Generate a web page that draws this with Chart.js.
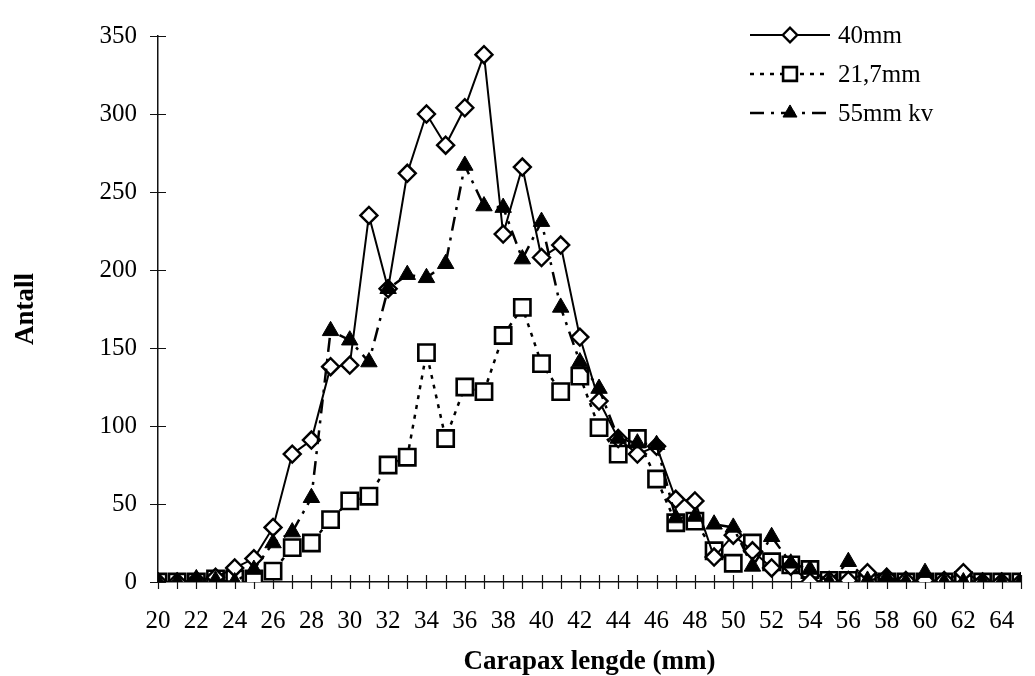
<!DOCTYPE html>
<html>
<head>
<meta charset="utf-8">
<script src="https://cdn.jsdelivr.net/npm/chart.js@4.4.0/dist/chart.umd.min.js"></script>
<style>
html, body { margin: 0; padding: 0; background: #fff; }
#wrap { width: 1035px; height: 676px; }
</style>
</head>
<body>
<div id="wrap"><canvas id="chart"></canvas></div>
<script>
// carapace length (mm)
var lengths = [20, 21, 22, 23, 24, 25, 26, 27, 28, 29,
               30, 31, 32, 33, 34, 35, 36, 37, 38, 39,
               40, 41, 42, 43, 44, 45, 46, 47, 48, 49,
               50, 51, 52, 53, 54, 55, 56, 57, 58, 59,
               60, 61, 62, 63, 64, 65];

var mesh40 = [0, 0, 1, 3, 9, 15, 35, 82, 91, 138,
              139, 235, 188, 262, 300, 280, 304, 338, 223, 266,
              208, 216, 157, 116, 92, 82, 87, 53, 52, 16,
              30, 20, 9, 10, 0, 1, 1, 6, 3, 1,
              1, 1, 6, 0, 0, 0];

var mesh217 = [0, 0, 0, 2, 2, 2, 7, 22, 25, 40,
               52, 55, 75, 80, 147, 92, 125, 122, 158, 176,
               140, 122, 132, 99, 82, 92, 66, 38, 39, 20,
               12, 25, 13, 11, 8, 1, 1, 0, 0, 0,
               0, 0, 1, 0, 0, 0];

var mesh55 = [0, 0, 2, 1, 0, 8, 25, 32, 54, 161,
              155, 141, 188, 197, 195, 204, 267, 241, 240, 207,
              231, 176, 141, 124, 92, 89, 88, 41, 42, 37,
              35, 10, 29, 12, 8, 0, 13, 1, 3, 0,
              6, 0, 0, 0, 0, 0];

var seriesNames = ['40mm', '21,7mm', '55mm kv'];

var yMin = 0, yMax = 350, yStep = 50;
var xMin = 20, xMax = 65;

function toPoints(values) {
    return values.map((v, i) => ({ x: lengths[i], y: v }));
}

var serif = 'Liberation Serif, Times New Roman, serif';

// Excel style tick marks crossing the axes
var crossTicks = {
    id: 'crossTicks',
    beforeDatasetsDraw(chart) {
        var ctx = chart.ctx, xs = chart.scales.x, ys = chart.scales.y;
        ctx.save();
        ctx.strokeStyle = '#111';
        ctx.lineWidth = 1.2;
        ctx.beginPath();
        xs.ticks.forEach(t => {
            var px = Math.round(xs.getPixelForValue(t.value)) + 0.5;
            ctx.moveTo(px, ys.bottom - 7);
            ctx.lineTo(px, ys.bottom + 7);
        });
        ys.ticks.forEach(t => {
            var py = Math.round(ys.getPixelForValue(t.value)) + 0.5;
            ctx.moveTo(xs.left - 8, py);
            ctx.lineTo(xs.left + 8, py);
        });
        ctx.stroke();
        ctx.restore();
    }
};

// legend with line sample + marker, like the original
var lineLegend = {
    id: 'lineLegend',
    afterDraw(chart) {
        var ctx = chart.ctx;
        var x0 = 750, x1 = 830, xm = 790, xt = 838;
        var rows = [35, 74, 113];
        ctx.save();
        chart.data.datasets.forEach((ds, i) => {
            var y = rows[i];
            ctx.strokeStyle = ds.borderColor;
            ctx.lineWidth = ds.borderWidth;
            ctx.setLineDash(ds.borderDash || []);
            ctx.beginPath();
            ctx.moveTo(x0, y);
            ctx.lineTo(x1, y);
            ctx.stroke();
            ctx.setLineDash([]);
            ctx.fillStyle = ds.pointBackgroundColor;
            ctx.strokeStyle = ds.pointBorderColor;
            ctx.lineWidth = ds.pointBorderWidth;
            Chart.helpers.drawPoint(ctx, {
                pointStyle: ds.pointStyle,
                radius: ds.pointRadius * 0.85,
                rotation: 0,
                borderWidth: ds.pointBorderWidth
            }, xm, y);
            ctx.fillStyle = '#000';
            ctx.font = '25px ' + serif;
            ctx.textBaseline = 'middle';
            ctx.textAlign = 'left';
            ctx.fillText(ds.label, xt, y + 1);
        });
        ctx.restore();
    }
};

var ctx = document.getElementById('chart').getContext('2d');
new Chart(ctx, {
    type: 'line',
    data: {
        datasets: [{
            label: seriesNames[0],
            data: toPoints(mesh40),
            borderColor: '#000',
            borderWidth: 2,
            pointStyle: 'rectRot',
            pointRadius: 8.5,
            pointBackgroundColor: '#fff',
            pointBorderColor: '#000',
            pointBorderWidth: 2.4,
            order: 1
        }, {
            label: seriesNames[1],
            data: toPoints(mesh217),
            borderColor: '#000',
            borderWidth: 2.5,
            borderDash: [4, 6],
            pointStyle: 'rect',
            pointRadius: 11.5,
            pointBackgroundColor: '#fff',
            pointBorderColor: '#000',
            pointBorderWidth: 2.6,
            order: 2
        }, {
            label: seriesNames[2],
            data: toPoints(mesh55),
            borderColor: '#000',
            borderWidth: 2.5,
            borderDash: [14, 7, 3, 7],
            pointStyle: 'triangle',
            pointRadius: 9.5,
            pointBackgroundColor: '#000',
            pointBorderColor: '#000',
            pointBorderWidth: 1,
            order: 0
        }]
    },
    options: {
        responsive: true,
        maintainAspectRatio: false,
        animation: false,
        layout: { padding: { top: 22, right: 10, bottom: 0, left: 10 } },
        plugins: {
            legend: { display: false },
            tooltip: { enabled: false }
        },
        scales: {
            x: {
                type: 'linear',
                min: xMin,
                max: xMax,
                afterFit: s => {
                    s.height = 94;
                    s.paddingLeft = 0;
                    s.paddingRight = 0;
                },
                grid: { display: false, drawTicks: false },
                border: { display: true, color: '#111', width: 1.5 },
                ticks: {
                    stepSize: 1,
                    autoSkip: false,
                    maxRotation: 0,
                    padding: 24,
                    color: '#000',
                    font: { family: serif, size: 25 },
                    callback: v => (v % 2 === 0 && v < 65) ? String(v) : ''
                },
                title: {
                    display: true,
                    text: 'Carapax lengde (mm)',
                    color: '#000',
                    padding: 0,
                    font: { family: serif, size: 27, weight: 'bold', lineHeight: 1 }
                }
            },
            y: {
                min: yMin,
                max: yMax,
                afterFit: s => { s.width = 148; },
                grid: { display: false, drawTicks: false },
                border: { display: true, color: '#111', width: 1.5 },
                ticks: {
                    stepSize: yStep,
                    padding: 21,
                    color: '#000',
                    font: { family: serif, size: 25 }
                },
                title: {
                    display: true,
                    text: 'Antall',
                    color: '#000',
                    padding: 0,
                    font: { family: serif, size: 27, weight: 'bold' }
                }
            }
        }
    },
    plugins: [crossTicks, lineLegend]
});
</script>
</body>
</html>
